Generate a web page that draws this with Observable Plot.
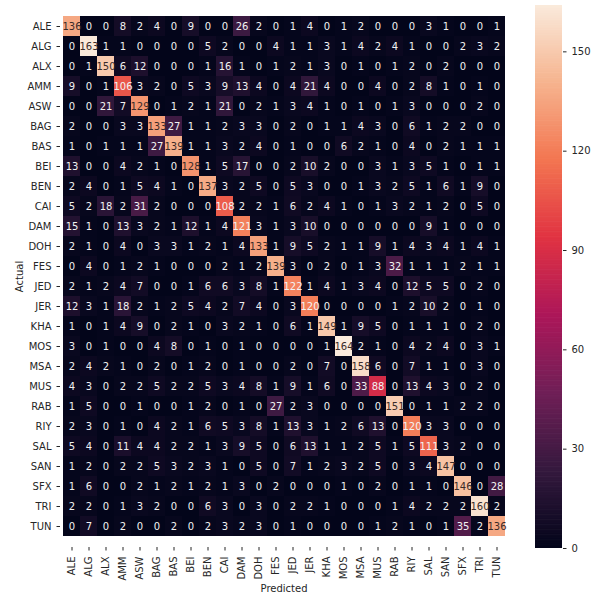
<!DOCTYPE html>
<html>
<head>
<meta charset="utf-8">
<script src="https://cdn.jsdelivr.net/npm/d3@7"></script>
<script src="https://cdn.jsdelivr.net/npm/@observablehq/plot@0.6"></script>
<style>
  html, body { margin: 0; padding: 0; background: #fff; }
  #wrap { position: relative; width: 592px; height: 594px; }
  #cbar { position: absolute; left: 535px; top: 0; }
</style>
</head>
<body>
<div id="wrap"><div id="main"></div><div id="cbar"></div></div>
<script>
const labels = ["ALE","ALG","ALX","AMM","ASW","BAG","BAS","BEI","BEN","CAI","DAM","DOH","FES","JED","JER","KHA","MOS","MSA","MUS","RAB","RIY","SAL","SAN","SFX","TRI","TUN"];

const ALE = [136,0,0,8,2,4,0,9,0,0,26,2,0,1,4,0,1,2,0,0,0,3,1,0,0,1];
const ALG = [0,163,1,1,0,0,0,0,5,2,0,0,4,1,1,3,1,4,2,4,1,0,0,2,3,2];
const ALX = [0,1,150,6,12,0,0,0,1,16,1,0,1,2,1,3,0,1,0,1,2,0,2,0,0,0];
const AMM = [9,0,1,106,3,2,0,5,3,9,13,4,0,4,21,4,0,0,4,0,2,8,1,0,1,0];
const ASW = [0,0,21,7,129,0,1,2,1,21,0,2,1,3,4,1,0,1,0,1,3,0,0,0,2,0];
const BAG = [2,0,0,3,3,133,27,1,1,2,3,3,0,2,0,1,1,4,3,0,6,1,2,2,0,0];
const BAS = [1,0,1,1,1,27,139,1,1,3,2,4,0,1,0,0,6,2,1,0,4,0,2,1,1,1];
const BEI = [13,0,0,4,2,1,0,128,1,5,17,0,0,2,10,2,0,0,3,1,3,5,1,0,1,1];
const BEN = [2,4,0,1,5,4,1,0,137,3,2,5,0,5,3,0,0,1,3,2,5,1,6,1,9,0];
const CAI = [5,2,18,2,31,2,0,0,0,108,2,2,1,6,2,4,1,0,1,3,2,1,2,0,5,0];
const DAM = [15,1,0,13,3,2,1,12,1,4,121,3,1,3,10,0,0,0,0,0,0,9,1,0,0,0];
const DOH = [2,1,0,4,0,3,3,1,2,1,4,133,1,9,5,2,1,1,9,1,4,3,4,1,4,1];
const FES = [0,4,0,1,2,1,0,0,0,2,1,2,139,3,0,2,0,1,3,32,1,1,1,2,1,1];
const JED = [2,1,2,4,7,0,0,1,6,6,3,8,1,122,1,4,1,3,4,0,12,5,5,0,2,0];
const JER = [12,3,1,18,2,1,2,5,4,2,7,4,0,3,120,0,0,0,0,1,2,10,2,0,1,0];
const KHA = [1,0,1,4,9,0,2,1,0,3,2,1,0,6,1,149,1,9,5,0,1,1,1,0,2,0];
const MOS = [3,0,1,0,0,4,8,0,1,0,1,0,0,0,0,1,164,2,1,0,4,2,4,0,3,1];
const MSA = [2,4,2,1,0,2,0,1,2,0,1,0,0,2,0,7,0,158,6,0,7,1,1,0,3,0];
const MUS = [4,3,0,2,2,5,2,2,5,3,4,8,1,9,1,6,0,33,88,0,13,4,3,0,2,0];
const RAB = [1,5,0,0,1,0,0,1,2,0,1,0,27,2,3,0,0,0,0,151,0,1,1,2,2,0];
const RIY = [2,3,0,1,0,4,2,1,6,5,3,8,1,13,3,1,2,6,13,0,120,3,3,0,0,0];
const SAL = [5,4,0,11,4,4,2,2,1,3,9,5,0,6,13,1,1,2,5,1,5,111,3,2,0,0];
const SAN = [1,2,0,2,2,5,3,2,3,1,0,5,0,7,1,2,3,2,5,0,3,4,147,0,0,0];
const SFX = [1,6,0,0,2,1,2,1,2,1,3,0,2,0,0,0,1,0,2,0,1,1,0,146,0,28];
const TRI = [2,2,0,1,3,2,0,0,6,3,0,3,0,2,2,1,0,0,0,1,4,2,2,2,160,2];
const TUN = [0,7,0,2,0,0,2,0,2,3,2,3,0,1,0,0,0,0,1,2,1,0,1,35,2,136];

const matrix = [ALE,ALG,ALX,AMM,ASW,BAG,BAS,BEI,BEN,CAI,DAM,DOH,FES,JED,JER,KHA,MOS,MSA,MUS,RAB,RIY,SAL,SAN,SFX,TRI,TUN];
const colorTicks = [0,30,60,90,120,150];
const vmax = 164;

const rocketStops = ["#03051a","#35193e","#701f57","#ad1759","#e13342","#f37651","#f6b48f","#faebdd"];
const rocket = d3.piecewise(d3.interpolateRgb, rocketStops);

const data = [];
matrix.forEach((row, i) => row.forEach((v, j) => data.push({actual: labels[i], pred: labels[j], value: v})));

const font = "DejaVu Sans, sans-serif";

const main = Plot.plot({
  width: 592,
  height: 594,
  marginLeft: 60,
  marginRight: 85,
  marginTop: 5,
  marginBottom: 47,
  style: {fontFamily: font, fontSize: "10px", background: "white", color: "#262626"},
  x: {domain: labels, padding: 0, label: "Predicted", tickRotate: -90, tickSize: 3.5, labelAnchor: "center", labelOffset: 44},
  y: {domain: labels, padding: 0, label: "Actual", tickSize: 3.5, labelAnchor: "center", labelOffset: 45},
  color: {type: "linear", domain: [0, vmax], interpolate: () => rocket},
  marks: [
    Plot.cell(data, {x: "pred", y: "actual", fill: "value", inset: 0}),
    Plot.text(data.filter(d => d.value < 125), {x: "pred", y: "actual", text: d => String(d.value), fill: "#f2f2f2", fontSize: 10}),
    Plot.text(data.filter(d => d.value >= 125), {x: "pred", y: "actual", text: d => String(d.value), fill: "#3a2a28", fontSize: 10})
  ]
});
document.getElementById("main").appendChild(main);

const strips = d3.range(0, vmax, 0.5);
const cbar = Plot.plot({
  width: 57,
  height: 594,
  marginLeft: 0,
  marginRight: 30,
  marginTop: 5,
  marginBottom: 46,
  style: {fontFamily: font, fontSize: "10px", background: "transparent", color: "#262626"},
  x: {domain: [0, 1], axis: null},
  y: {domain: [0, vmax], axis: "right", ticks: colorTicks, tickSize: 3.5, label: null},
  marks: [
    Plot.rect(strips, {x1: 0, x2: 1, y1: d => d, y2: d => Math.min(vmax, d + 0.7), fill: d => rocket(d / vmax)})
  ]
});
document.getElementById("cbar").appendChild(cbar);
</script>
</body>
</html>
